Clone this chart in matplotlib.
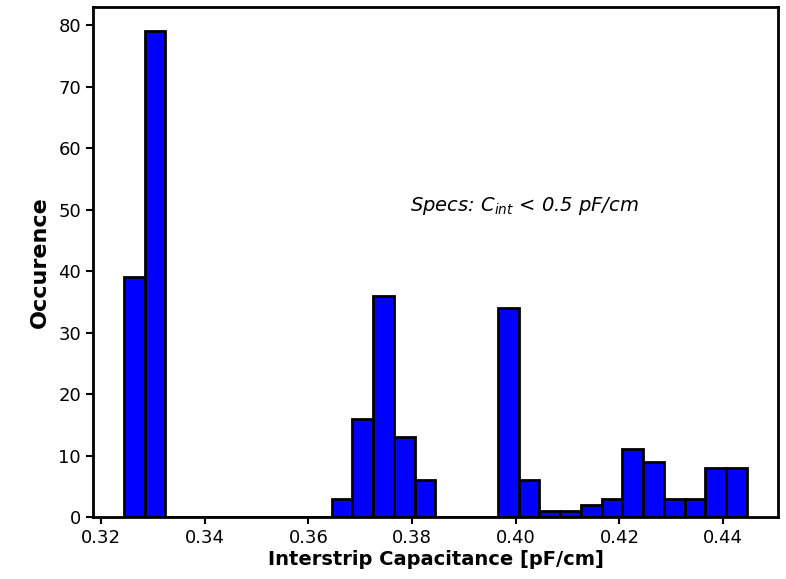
import numpy as np
import matplotlib
matplotlib.use("Agg")
from matplotlib import pyplot as plt

# histogram: 30 bins between these edges
x_lo = 0.3244
x_hi = 0.4446
counts = [39, 79, 0, 0, 0, 0, 0, 0, 0, 0,
          3, 16, 36, 13, 6, 0, 0, 0, 34, 6,
          1, 1, 2, 3, 11, 9, 3, 3, 8, 8]
x_ticks = [0.32, 0.34, 0.36, 0.38, 0.40, 0.42, 0.44]
y_ticks = [0, 10, 20, 30, 40, 50, 60, 70, 80]

edges = np.linspace(x_lo, x_hi, len(counts) + 1)

fig = plt.figure(figsize=(7.86, 5.79), dpi=100)
ax = fig.add_axes([0.118, 0.107, 0.872, 0.881])
ax.bar(edges[:-1], counts, width=np.diff(edges), align='edge',
       color='#0000ff', edgecolor='black', linewidth=2)

ax.set_xticks(x_ticks)
ax.set_xticklabels(["%.2f" % t for t in x_ticks])
ax.set_yticks(y_ticks)
ax.tick_params(labelsize=13, width=1.5, length=5)
for s in ax.spines.values():
    s.set_linewidth(2)

ax.set_xlabel("Interstrip Capacitance [pF/cm]", fontsize=14, fontweight='bold',
              labelpad=2)
ax.set_ylabel("Occurence", fontsize=16, fontweight='bold', labelpad=6)
ax.text(0.3795, 50.6, r"Specs: $C_{int}$ < 0.5 pF/cm", fontsize=14,
        style='italic', va='center')

fig.savefig("out.png", dpi=100)
